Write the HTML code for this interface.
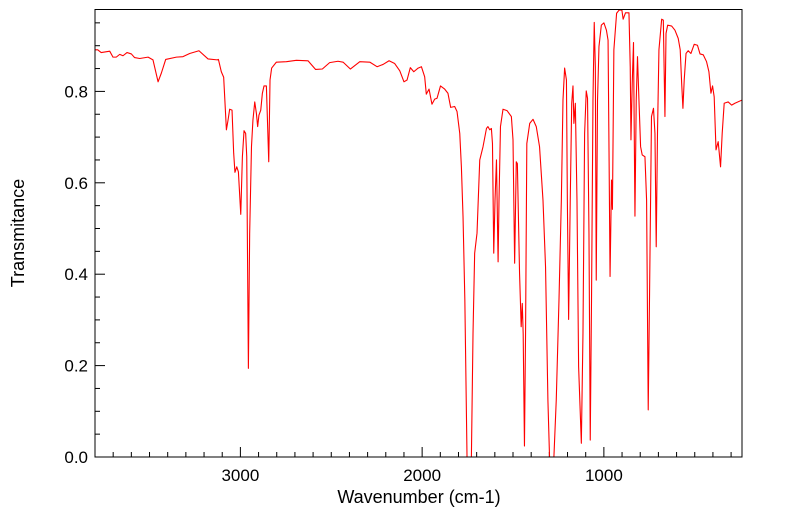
<!DOCTYPE html>
<html><head><meta charset="utf-8"><style>
html,body{margin:0;padding:0;background:#fff;}
svg text{font-family:"Liberation Sans",sans-serif;}
</style></head><body>
<svg id="chart" width="799" height="516" xmlns="http://www.w3.org/2000/svg">
<defs><clipPath id="plotclip"><rect x="95" y="9.5" width="647" height="447.5"/></clipPath></defs>
<g id="axes"></g>
<g id="series" clip-path="url(#plotclip)"></g>
<rect x="95" y="9.5" width="647" height="447.5" fill="none" stroke="#000" stroke-width="1"/>
<text x="419" y="503" font-size="18" text-anchor="middle">Wavenumber (cm-1)</text>
<text transform="translate(24,233) rotate(-90)" font-size="18" text-anchor="middle">Transmitance</text>
</svg>
<script>
const wavenumbers = [3800,3785,3766,3719,3701,3683,3664,3646,3624,3600,3582,3554,3508,3481,3453,3435,3411,3352,3316,3279,3228,3178,3127,3121,3105,3092,3077,3068,3059,3046,3037,3030,3020,3011,2998,2989,2980,2971,2965,2956,2949,2939,2931,2921,2912,2905,2898,2888,2879,2870,2857,2844,2837,2828,2802,2747,2692,2628,2586,2549,2509,2463,2435,2395,2343,2288,2248,2215,2182,2151,2123,2100,2083,2065,2046,2022,2004,1986,1977,1962,1946,1931,1918,1899,1876,1858,1843,1821,1808,1793,1784,1775,1765,1753,1741,1729,1720,1711,1698,1683,1665,1646,1638,1628,1619,1613,1606,1599,1591,1582,1577,1569,1555,1533,1509,1500,1491,1482,1476,1464,1455,1449,1444,1437,1431,1424,1408,1390,1372,1354,1335,1321,1308,1299,1287,1275,1262,1247,1234,1225,1216,1206,1201,1194,1185,1177,1170,1165,1157,1148,1139,1124,1115,1106,1097,1090,1082,1075,1068,1060,1053,1047,1042,1035,1027,1014,1000,986,977,971,966,958,953,945,930,916,901,894,881,862,855,851,844,837,829,822,815,807,798,789,774,765,756,749,738,727,719,712,705,697,682,673,664,658,649,627,609,591,580,572,565,558,548,536,521,503,485,471,453,435,422,411,402,393,383,371,358,349,338,316,297,279,240];
const transmittance = [0.891,0.891,0.885,0.888,0.875,0.875,0.881,0.878,0.885,0.882,0.874,0.872,0.875,0.869,0.821,0.840,0.870,0.875,0.876,0.883,0.889,0.871,0.869,0.870,0.843,0.831,0.716,0.737,0.761,0.759,0.665,0.623,0.635,0.624,0.531,0.657,0.714,0.708,0.657,0.194,0.489,0.679,0.737,0.777,0.752,0.723,0.748,0.759,0.796,0.812,0.812,0.646,0.825,0.851,0.864,0.865,0.868,0.867,0.848,0.849,0.863,0.866,0.864,0.849,0.865,0.864,0.854,0.859,0.867,0.861,0.845,0.821,0.825,0.852,0.843,0.851,0.854,0.832,0.794,0.805,0.772,0.783,0.785,0.812,0.805,0.796,0.765,0.767,0.756,0.708,0.635,0.526,0.344,0.0,-0.03,0.0,0.271,0.446,0.490,0.650,0.679,0.719,0.723,0.716,0.719,0.686,0.446,0.562,0.650,0.427,0.562,0.723,0.761,0.758,0.745,0.694,0.424,0.646,0.642,0.402,0.285,0.336,0.27,0.024,0.27,0.686,0.730,0.739,0.723,0.679,0.562,0.416,0.125,0.0,-0.03,0.0,0.125,0.344,0.562,0.781,0.851,0.825,0.562,0.301,0.562,0.774,0.812,0.730,0.774,0.562,0.198,0.030,0.271,0.708,0.801,0.785,0.49,0.037,0.344,0.781,0.951,0.854,0.387,0.781,0.898,0.945,0.950,0.934,0.912,0.635,0.395,0.606,0.542,0.891,0.971,0.978,0.978,0.958,0.972,0.972,0.854,0.694,0.818,0.907,0.527,0.781,0.876,0.781,0.679,0.661,0.657,0.562,0.103,0.344,0.745,0.763,0.708,0.460,0.708,0.891,0.958,0.956,0.745,0.927,0.945,0.943,0.934,0.916,0.891,0.818,0.763,0.825,0.883,0.889,0.883,0.903,0.901,0.882,0.880,0.865,0.843,0.796,0.812,0.788,0.672,0.690,0.635,0.708,0.774,0.777,0.770,0.774,0.781];
const xTickLabels = [3000,2000,1000];
const yTickLabels = ["0.0","0.2","0.4","0.6","0.8"];
const yTickValues = [0,0.2,0.4,0.6,0.8];

const X0=95,X1=742,Y0=457,Y1=9.5, WMAX=3800, WMIN=240, TMAX=(457-9.5)/457;
function xs(w){return X0+(WMAX-w)/(WMAX-WMIN)*(X1-X0);}
function ys(t){return Y0-t/TMAX*(Y0-Y1);}
const NS="http://www.w3.org/2000/svg";
const axes=document.getElementById('axes');
function mk(tag,attrs,parent){const e=document.createElementNS(NS,tag);for(const k in attrs)e.setAttribute(k,attrs[k]);parent.appendChild(e);return e;}

for(let w=300;w<=3800;w+=100){
  const major=(w%1000===0);
  const t=mk('line',{x1:xs(w),x2:xs(w),y1:Y0,y2:Y0-(major?10:5),stroke:'#000','stroke-width':1},axes);
  
  
}
xTickLabels.forEach(v=>{
  const t=mk('text',{x:xs(v),y:481,'font-size':17,'text-anchor':'middle'},axes);
  t.textContent=v;
  
  
});
for(let i=0;i<=19;i++){
  const v=i*0.05;
  if(ys(v)<Y1)break;
  const major=(i%4===0);
  const t=mk('line',{x1:X0,x2:X0+(major?10:5),y1:ys(v),y2:ys(v),stroke:'#000','stroke-width':1},axes);
  
  
}
yTickValues.forEach((v,i)=>{
  const t=mk('text',{x:88,y:ys(v)+6,'font-size':17,'text-anchor':'end'},axes);
  t.textContent=yTickLabels[i];
  
  
});
const d=wavenumbers.map((w,i)=>(i?'L':'M')+xs(w).toFixed(2)+','+ys(transmittance[i]).toFixed(2)).join(' ');
const p=mk('path',{d:d,fill:'none',stroke:'#ff0000','stroke-width':1.1,'stroke-linejoin':'round'},document.getElementById('series'));


</script>
</body></html>
